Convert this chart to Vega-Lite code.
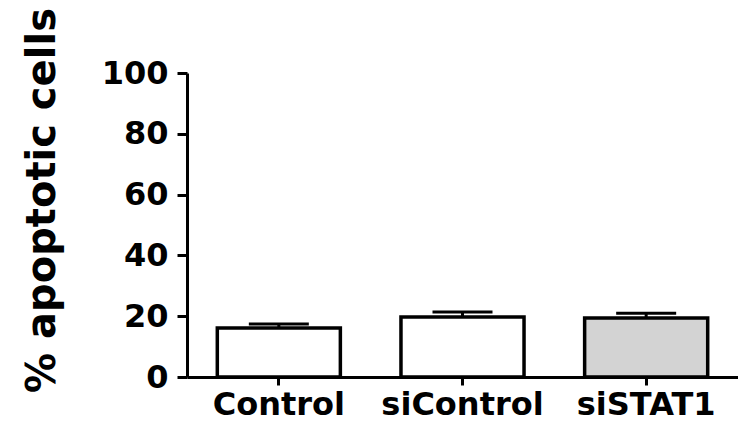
{
  "$schema": "https://vega.github.io/schema/vega-lite/v6.json",
  "autosize": "none",
  "width": 551,
  "height": 304,
  "padding": {"left": 187, "top": 73, "right": 0, "bottom": 49},
  "background": "white",
  "config": {"view": {"stroke": null}},
  "data": {"values": [
    {"group": "Control", "value": 16.1, "hi": 17.4, "fill": "white"},
    {"group": "siControl", "value": 19.7, "hi": 21.4, "fill": "white"},
    {"group": "siSTAT1", "value": 19.4, "hi": 21.0, "fill": "gray"}
  ]},
  "encoding": {
    "x": {
      "field": "group", "type": "nominal", "sort": null,
      "scale": {"paddingInner": 0.33, "paddingOuter": 0.165},
      "axis": {
        "title": null, "labelAngle": 0,
        "labelFont": "DejaVu Sans", "labelFontWeight": "bold", "labelFontSize": 32,
        "labelColor": "black", "labelPadding": 4,
        "domainColor": "black", "domainWidth": 3,
        "tickColor": "black", "tickWidth": 3, "tickSize": 8
      }
    }
  },
  "layer": [
    {
      "mark": {"type": "rule", "stroke": "black", "strokeWidth": 3},
      "encoding": {
        "y": {"field": "value", "type": "quantitative"},
        "y2": {"field": "hi"}
      }
    },
    {
      "mark": {"type": "tick", "color": "black", "size": 60, "thickness": 3, "opacity": 1},
      "encoding": {
        "y": {"field": "hi", "type": "quantitative"}
      }
    },
    {
      "mark": {"type": "bar", "stroke": "black", "strokeWidth": 3.5},
      "encoding": {
        "y": {
          "field": "value", "type": "quantitative",
          "scale": {"domain": [0, 100], "nice": false},
          "axis": {
            "values": [0, 20, 40, 60, 80, 100],
            "grid": false,
            "title": "% apoptotic cells",
            "titleFont": "DejaVu Sans", "titleFontWeight": "bold", "titleFontSize": 40,
            "titleColor": "black", "titleAngle": -90,
            "titleX": -145, "titleY": 127, "titleAlign": "center", "titleBaseline": "middle",
            "labelFont": "DejaVu Sans", "labelFontWeight": "bold", "labelFontSize": 32,
            "labelColor": "black", "labelPadding": 9,
            "domainColor": "black", "domainWidth": 3,
            "tickColor": "black", "tickWidth": 3, "tickSize": 10
          }
        },
        "fill": {
          "field": "fill", "type": "nominal",
          "scale": {"domain": ["white", "gray"], "range": ["#ffffff", "#d3d3d3"]},
          "legend": null
        }
      }
    }
  ]
}
